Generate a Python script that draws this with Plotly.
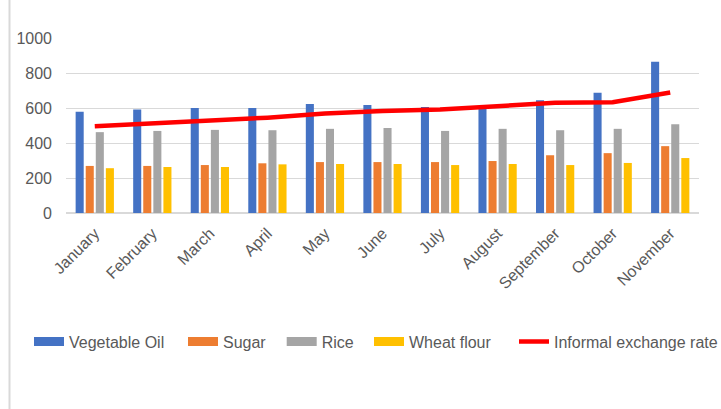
import plotly.graph_objects as go

months = ["January", "February", "March", "April", "May", "June", "July",
          "August", "September", "October", "November"]
vegetable_oil = [578, 591, 600, 600, 623, 617, 606, 600, 644, 687, 864]
sugar = [269, 269, 274, 284, 291, 291, 291, 297, 330, 342, 382]
rice = [462, 469, 475, 473, 481, 486, 469, 481, 473, 481, 507]
wheat_flour = [256, 263, 263, 278, 280, 280, 274, 280, 274, 286, 314]
exchange_rate = [496, 511, 526, 545, 568, 583, 591, 609, 630, 633, 689]
y_ticks = [0, 200, 400, 600, 800, 1000]

FONT = "Liberation Sans"
GREY_TXT = "#595959"
W, H = 721, 409

bar_series = [
    ("Vegetable Oil", vegetable_oil, "#4472C4", "legend"),
    ("Sugar", sugar, "#ED7D31", "legend2"),
    ("Rice", rice, "#A5A5A5", "legend3"),
    ("Wheat flour", wheat_flour, "#FFC000", "legend4"),
]

fig = go.Figure()
for name, vals, col, lg in bar_series:
    fig.add_trace(go.Bar(x=months, y=vals, name=name, marker_color=col,
                         marker_line_width=0, showlegend=False))
fig.add_trace(go.Scatter(x=months, y=exchange_rate, mode="lines",
                         name="Informal exchange rate",
                         line=dict(color="#FF0000", width=4.5),
                         legend="legend5"))
# legend keys for bars (wide flat swatches like the original)
for name, vals, col, lg in bar_series:
    fig.add_trace(go.Scatter(x=[None], y=[None], mode="lines", name=name,
                             line=dict(color=col, width=9), legend=lg,
                             hoverinfo="skip"))

text_px = [71, 225, 323.7, 411, 556]
legend_common = dict(orientation="h", xref="container", yref="container",
                     xanchor="left", yanchor="middle", y=(H - 341.5) / H,
                     bgcolor="rgba(0,0,0,0)", borderwidth=0,
                     font=dict(family=FONT, size=16, color=GREY_TXT))
legends = {}
for i, tx in enumerate(text_px):
    key = "legend" if i == 0 else f"legend{i+1}"
    legends[key] = dict(legend_common, x=(tx - 42) / W)

fig.update_layout(
    width=W, height=H,
    margin=dict(l=66, r=22, t=38, b=196),
    paper_bgcolor="white", plot_bgcolor="white",
    barmode="group", bargap=0.3, bargroupgap=0.2,
    font=dict(family=FONT, size=16, color=GREY_TXT),
    xaxis=dict(showgrid=False, tickangle=-45, ticks="", showline=False,
               tickfont=dict(family=FONT, size=16, color=GREY_TXT),
               ticklabelstandoff=7),
    yaxis=dict(range=[0, 1000], tickvals=y_ticks, showgrid=True,
               gridcolor="#D9D9D9", gridwidth=1.3, zeroline=True,
               zerolinecolor="#D9D9D9", zerolinewidth=1.5, ticks="",
               tickfont=dict(family=FONT, size=16, color=GREY_TXT),
               ticklabelstandoff=13),
    shapes=[dict(type="line", xref="paper", yref="paper",
                 x0=(9.5 - 66) / 633, x1=(9.5 - 66) / 633, y0=-2, y1=2,
                 line=dict(color="#D9D9D9", width=2))],
    **legends,
)

fig.write_html("out.html", config={"displayModeBar": False},
               post_script="document.body.style.margin='0';")
